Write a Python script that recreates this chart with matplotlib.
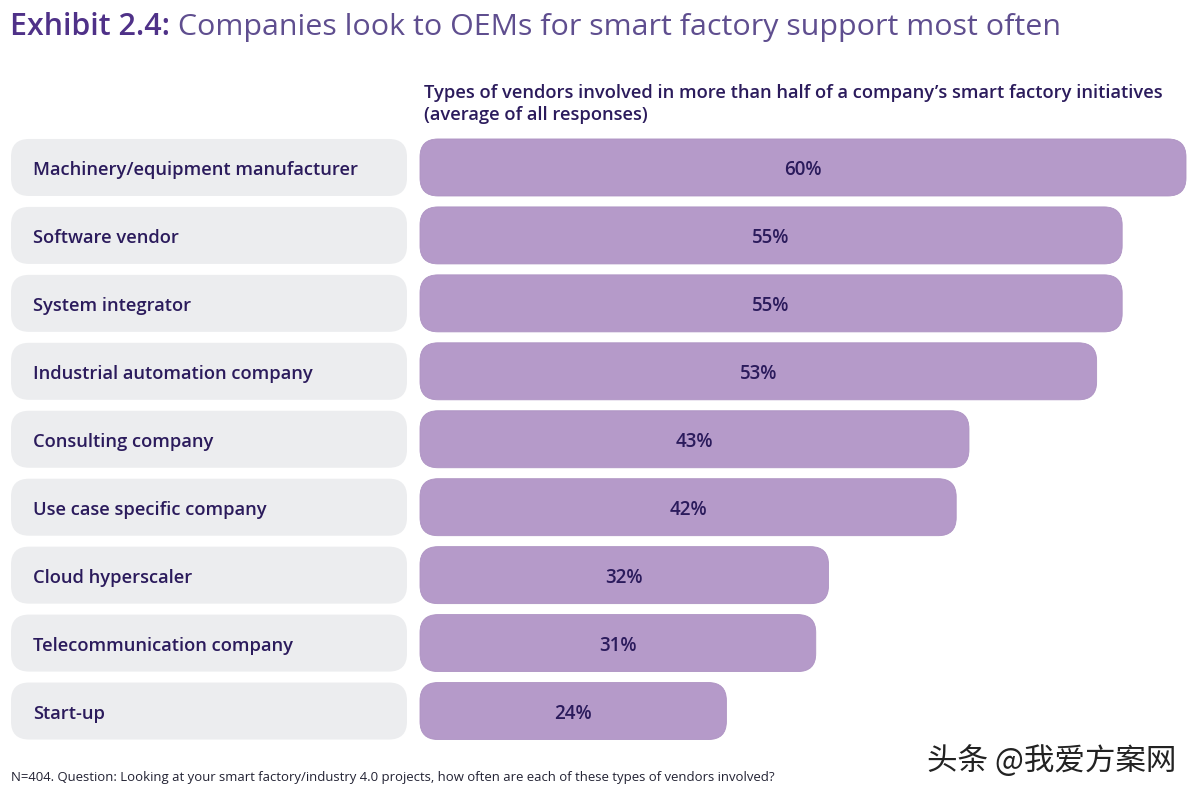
import matplotlib
matplotlib.use("Agg")
import matplotlib.pyplot as plt
from matplotlib.patches import FancyBboxPatch

categories = ["Machinery/equipment manufacturer", "Software vendor", "System integrator",
              "Industrial automation company", "Consulting company", "Use case specific company",
              "Cloud hyperscaler", "Telecommunication company", "Start-up"]
values = [60, 55, 55, 53, 43, 42, 32, 31, 24]
title_bold = "Exhibit 2.4:"
title_rest = " Companies look to OEMs for smart factory support most often"
subtitle = "Types of vendors involved in more than half of a company\u2019s smart factory initiatives\n(average of all responses)"
footnote = "N=404. Question: Looking at your smart factory/industry 4.0 projects, how often are each of these types of vendors involved?"
watermark = "头条 @我爱方案网"

W, H = 1200, 798
BAR = "#B59AC9"; PANEL = "#ECEDEF"; DARK = "#2B1B5C"
plt.rcParams['font.family'] = ['Open Sans', 'DejaVu Sans']

fig = plt.figure(figsize=(12, 7.98), dpi=100, facecolor="white")

def axes_px(l, t, r, b):
    return fig.add_axes([l / W, 1 - b / H, (r - l) / W, (b - t) / H])

ypos = list(range(len(categories)))
# bar axes: 0-60 spans 420..1186 px; rows span 133.5..745 px
ax = axes_px(420, 133.5, 1186, 745)
ax.set_xlim(0, 60); ax.set_ylim(8.5, -0.5); ax.axis("off")
pxx = 766 / 60; pxy = 611.5 / 9
h = 57 / pxy; r = 18 / pxx
dy = 3 / pxy
for y, v in zip(ypos, values):
    ax.add_patch(FancyBboxPatch((0, y - h / 2), v, h, boxstyle=f"round,pad=0,rounding_size={r}",
                                mutation_aspect=pxx / pxy, fc=BAR, ec="#AE93C3", lw=0.6, clip_on=False))
    ax.text(v / 2, y + dy, f"{v}%", ha="center", va="center", fontsize=13.5, weight=600, color=DARK)

# label panels
ax2 = axes_px(11, 133.5, 407, 745)
ax2.set_xlim(0, 396); ax2.set_ylim(8.5, -0.5); ax2.axis("off")
for y, c in zip(ypos, categories):
    ax2.add_patch(FancyBboxPatch((0, y - h / 2), 396, h, boxstyle="round,pad=0,rounding_size=18",
                                 mutation_aspect=1 / pxy, fc=PANEL, ec="none", clip_on=False))
    ax2.text(22, y + dy, c, ha="left", va="center", fontsize=13.2, weight=600, color=DARK)

t1 = fig.text(10 / W, 1 - 27 / H, title_bold, fontsize=21.9, weight=600, color="#4F3188", va="center", ha="left")
fig.canvas.draw()
ann = plt.annotate(title_rest, xy=(1, 0), xycoords=t1, xytext=(0, 0), textcoords="offset points",
                   fontsize=21.9, color="#5F4E8F", va="bottom", ha="left", annotation_clip=False)
fig.text(424 / W, 1 - 104 / H, subtitle, fontsize=13.2, weight=600, color=DARK, va="center", ha="left", linespacing=1.33)
fig.text(11 / W, 1 - 778 / H, footnote, fontsize=9.42, color="#222233", va="center", ha="left")
fig.text(927 / W, 1 - 761 / H, watermark, fontsize=22, color="#222222", va="center", ha="left",
         family=['Noto Sans CJK SC', 'DejaVu Sans'])

fig.savefig("out.png", dpi=100, facecolor="white")
